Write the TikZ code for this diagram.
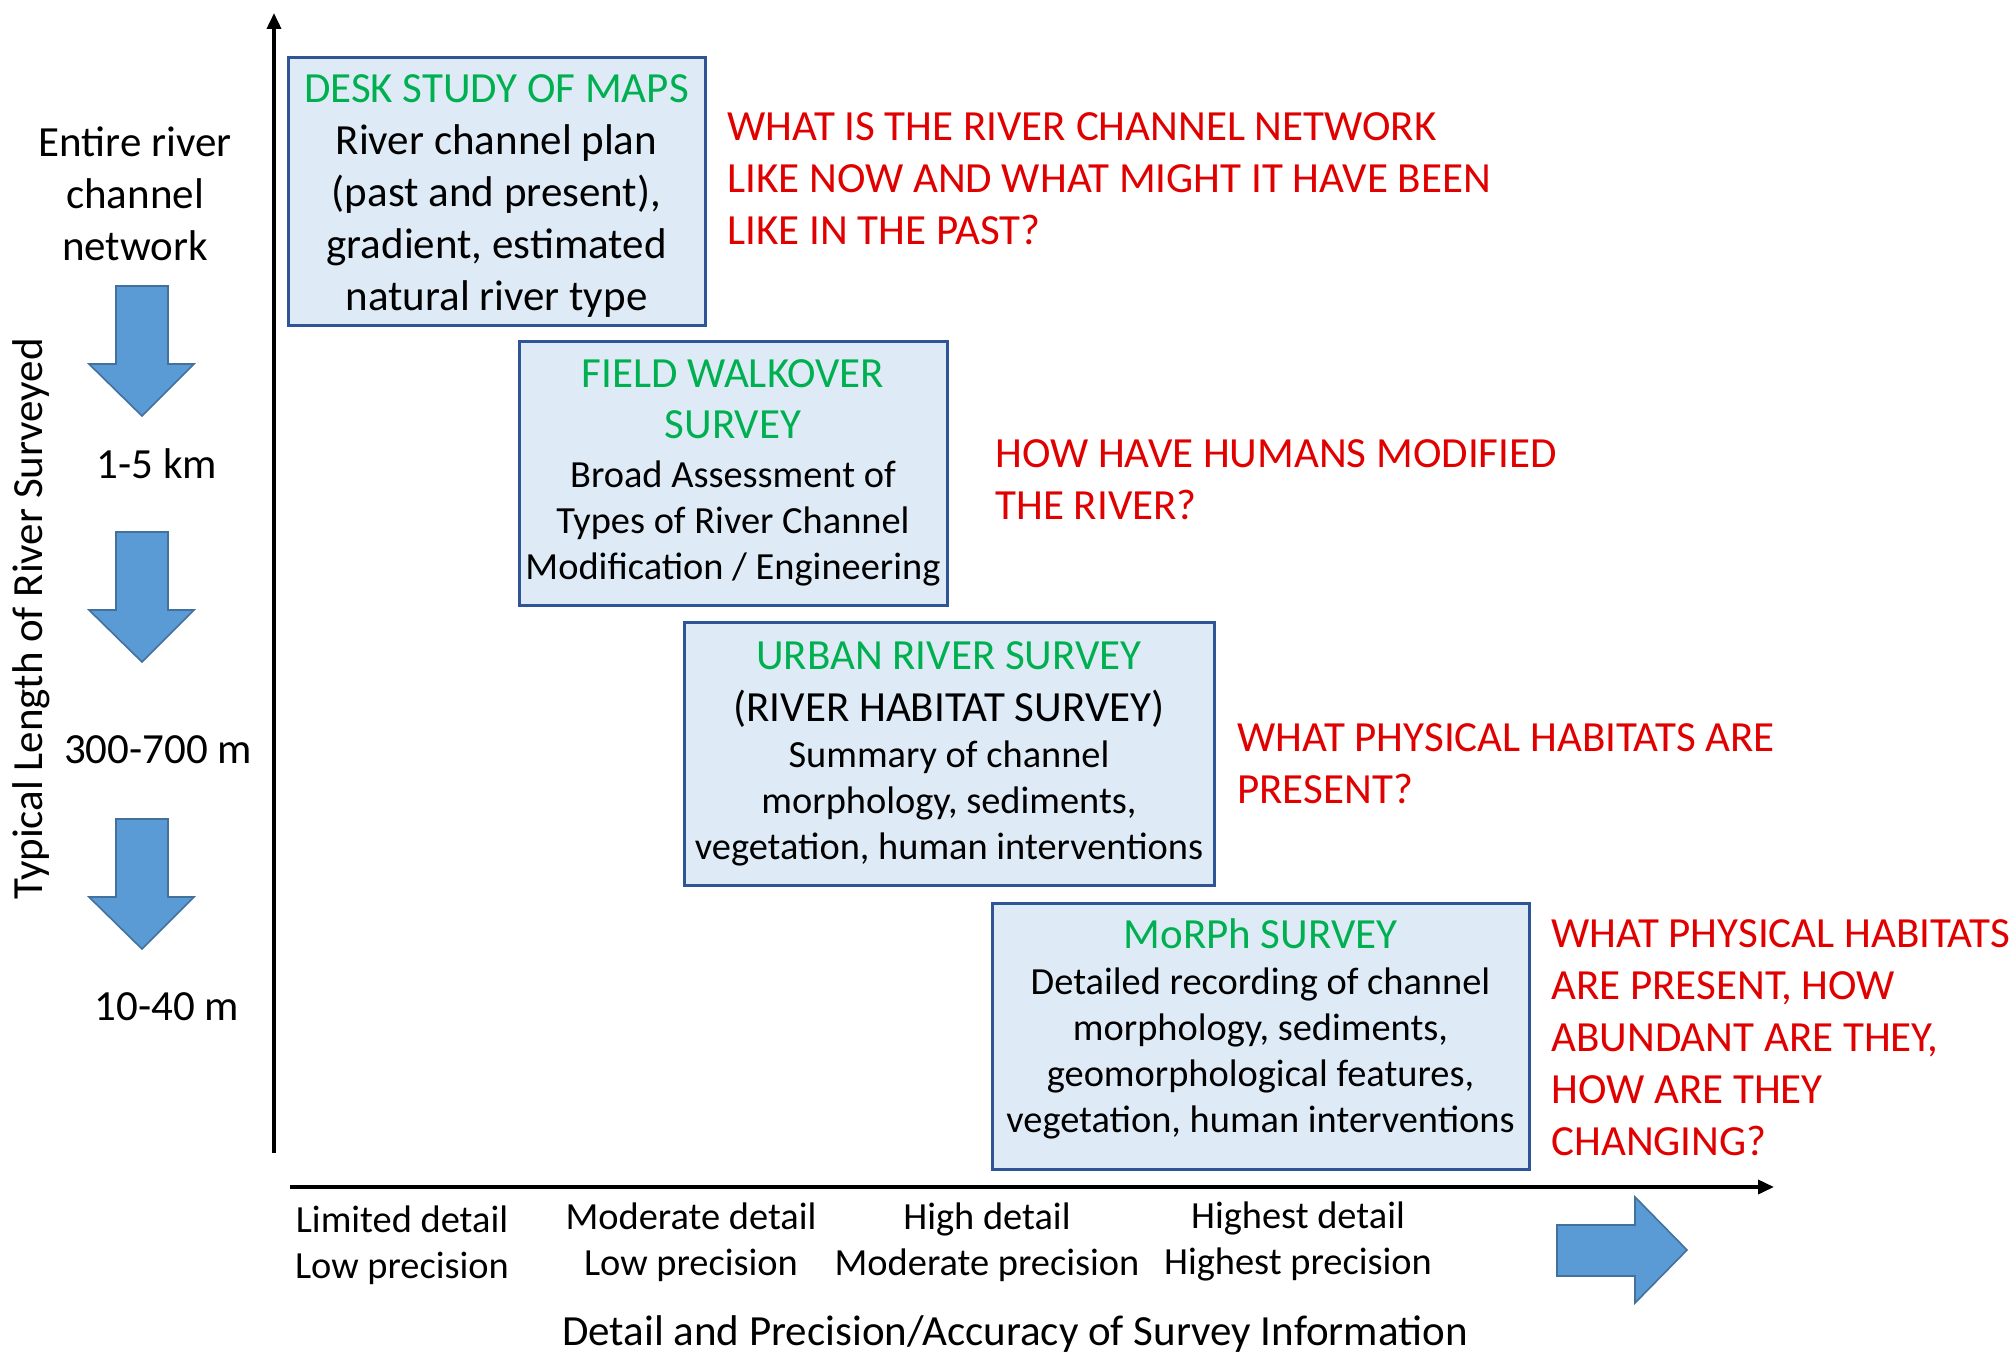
\documentclass[tikz,border=0pt]{standalone}
\usepackage{fontspec}
\setmainfont{Carlito}
\usetikzlibrary{positioning,arrows.meta}
\definecolor{boxfill}{HTML}{DEEBF7}
\definecolor{boxline}{HTML}{2F5597}
\definecolor{titlegreen}{HTML}{00B050}
\definecolor{askred}{HTML}{E00000}
\definecolor{arrowfill}{HTML}{5B9BD5}
\definecolor{arrowline}{HTML}{41719C}
\newcommand{\bigtext}{\fontsize{21.5}{26}\selectfont}
\newcommand{\smalltext}{\fontsize{19.2}{23}\selectfont}

\begin{document}
\begin{tikzpicture}[x=0.5pt,y=-0.5pt,
    survey/.style={draw=boxline,fill=boxfill,line width=1.5pt,align=center,inner sep=0pt},
    question/.style={anchor=west,align=left,inner sep=0pt,text=askred,font=\bigtext},
    scale label/.style={align=center,font=\bigtext},
    level label/.style={align=center,font=\smalltext},
    blockarrow/.style={fill=arrowfill,draw=arrowline,line width=0.8pt,line join=miter},
    axis/.style={line width=1.8pt,-{Triangle[length=8pt,width=7pt]}}]
    \useasboundingbox (0,0) rectangle (2015,1354);
    % Axes
    \coordinate (yfoot) at (274,1153);
    \coordinate (ytop) at (274,13);
    \coordinate (xfoot) at (290,1187);
    \coordinate (xend) at (1774,1187);
    \draw[axis] (yfoot) -- (ytop);
    \draw[axis] (xfoot) -- (xend);
    % Survey boxes
    \node[survey,minimum width=208.5pt,minimum height=133.5pt,font=\bigtext] (desk) at (496.5,191.5)
        {\rule{0pt}{18pt}\textcolor{titlegreen}{DESK STUDY OF MAPS}\\River channel plan\\(past and present),\\gradient, estimated\\natural river type};
    \node[survey,minimum width=214pt,minimum height=132pt,font=\smalltext] (walk) at (733,473)
        {{\bigtext\textcolor{titlegreen}{FIELD WALKOVER}}\\[2.5pt]{\bigtext\textcolor{titlegreen}{SURVEY}}\\[1.5pt]Broad Assessment of\\Types of River Channel\\Modification / Engineering};
    \node[survey,minimum width=265pt,minimum height=131.5pt,font=\smalltext] (urban) at (949,754)
        {{\bigtext\textcolor{titlegreen}{URBAN RIVER SURVEY}}\\[3pt]{\bigtext(RIVER HABITAT SURVEY)}\\Summary of channel\\morphology, sediments,\\vegetation, human interventions\rule[-2pt]{0pt}{0pt}};
    \node[survey,minimum width=268.5pt,minimum height=133pt,font=\smalltext] (morph) at (1260.5,1036)
        {{\bigtext\textcolor{titlegreen}{MoRPh SURVEY}}\\Detailed recording of channel\\morphology, sediments,\\geomorphological features,\\vegetation, human interventions\rule[-10pt]{0pt}{0pt}};
    % Questions
    \node[question] (askdesk) at (727,179) {WHAT IS THE RIVER CHANNEL NETWORK\\LIKE NOW AND WHAT MIGHT IT HAVE BEEN\\LIKE IN THE PAST?};
    \node[question] (askwalk) at (995,479.5) {HOW HAVE HUMANS MODIFIED\\THE RIVER?};
    \node[question] (askurban) at (1237,763.5) {WHAT PHYSICAL HABITATS ARE\\PRESENT?};
    \node[question] (askmorph) at (1551,1037.5) {WHAT PHYSICAL HABITATS\\ARE PRESENT, HOW\\ABUNDANT ARE THEY,\\HOW ARE THEY\\CHANGING?};
    % Length scale
    \node[scale label] (entire) at (135,194) {Entire river\\channel\\network};
    \node[scale label] (km) at (157,464) {1-5 km};
    \node[scale label] (hm) at (158,750) {300-700 m};
    \node[scale label] (tens) at (167,1007) {10-40 m};
    \node[scale label,rotate=90] (ylabel) at (31,619) {Typical Length of River Surveyed};
    \draw[blockarrow] (116,286) -- (168,286) -- (168,364) -- (194,364) -- (142,416) -- (89,364) -- (116,364) -- cycle;
    \draw[blockarrow] (116,532) -- (168,532) -- (168,610) -- (194,610) -- (142,662) -- (89,610) -- (116,610) -- cycle;
    \draw[blockarrow] (116,819) -- (168,819) -- (168,897) -- (194,897) -- (142,949) -- (89,897) -- (116,897) -- cycle;
    % Detail scale
    \node[level label] (limited) at (402,1245) {Limited detail\\Low precision};
    \node[level label] (moderate) at (691,1242) {Moderate detail\\Low precision};
    \node[level label] (high) at (987,1242) {High detail\\Moderate precision};
    \node[level label] (highest) at (1298,1241) {Highest detail\\Highest precision};
    \node[scale label] (xlabel) at (1015,1334) {Detail and Precision/Accuracy of Survey Information};
    \draw[blockarrow] (1557,1225) -- (1635,1225) -- (1635,1197) -- (1687,1250) -- (1635,1303) -- (1635,1276) -- (1557,1276) -- cycle;
\end{tikzpicture}
\end{document}
